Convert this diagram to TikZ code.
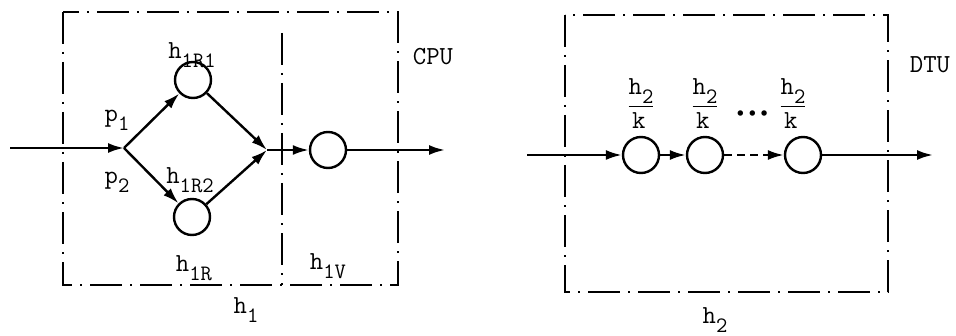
\documentclass[tikz,border=0pt]{standalone}
\usepackage{fontspec}
\usetikzlibrary{arrows.meta, positioning}

\newcommand{\lo}[1]{\raisebox{-0.8ex}{\fontsize{11}{13}\selectfont #1}}
\newcommand{\qfrac}{$\displaystyle\frac{\mbox{h\lo{2}}}{\mbox{k\,}}$}

\begin{document}
\begin{tikzpicture}[
    x=0.5pt, y=-0.5pt,
    node distance=0pt and 4pt,
    every node/.style={font=\ttfamily\fontsize{13}{15}\selectfont},
    queue/.style={circle, draw=black, line width=1.2pt, minimum size=18pt, inner sep=0pt},
    frame/.style={line width=1.1pt, dash pattern=on 16pt off 4pt on 1pt off 4pt},
    arrow/.style={-{Latex[length=8pt, width=5pt]}, line width=1.2pt}
]
\useasboundingbox (0,0) rectangle (956,336);

% CPU
\draw [frame] (63,12) rectangle (398,285);
\draw [frame] (282,33) -- (282,285);
\node (r1) [queue] at (193,80) {};
\node (r2) [queue] at (192,217) {};
\node (v) [queue] at (328,150) {};
\coordinate (in1) at (10,148);
\coordinate (split) at (124,148);
\coordinate (merge) at (267,150);
\coordinate (out1) at (445,150);

\draw [arrow] (in1) -- (split);
\draw [arrow] (split) -- (r1);
\draw [arrow] (split) -- (r2);
\draw [arrow] (r1) -- (merge);
\draw [arrow] (r2) -- (merge);
\draw [arrow] (merge) -- (v);
\draw [arrow] (v) -- (out1);

\node (lr1) at (192,55) {h\lo{1R1}};
\node (lr2) at (190,180) {h\lo{1R2}};
\node (lp1) at (117,120) {p\lo{1}};
\node (lp2) at (117,182) {p\lo{2}};
\node (lcpu) at (433,57) {CPU};
\node (lr) at (194,268) {h\lo{1R}};
\node (lv) at (328,266) {h\lo{1V}};
\node (lh1) at (246,310) {h\lo{1}};

% DTU
\draw [frame] (565,15) rectangle (888,292);
\node (q1) [queue] at (641,155) {};
\node (q2) [queue] at (705,155) {};
\node (q3) [queue] at (803,155) {};
\coordinate (in2) at (527,155);
\coordinate (out2) at (933,155);

\draw [arrow] (in2) -- (q1);
\draw [arrow] (q1) -- (q2);
\draw [arrow, dash pattern=on 4pt off 2.5pt] (q2) -- (q3);
\draw [arrow] (q3) -- (out2);

\node (f1) [above=of q1] {\qfrac};
\node (f2) [above=of q2] {\qfrac};
\node (f3) [above=of q3, xshift=-5pt] {\qfrac};
\node (dots) [left=-2pt of f3, yshift=-5pt] {$\scriptscriptstyle\bullet\;\bullet\;\bullet$};
\node (ldtu) at (930,65) {DTU};
\node (lh2) at (715,320) {h\lo{2}};
\end{tikzpicture}
\end{document}
